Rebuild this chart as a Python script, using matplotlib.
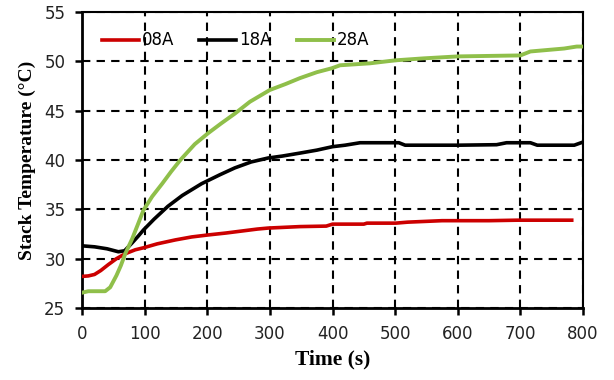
import matplotlib
matplotlib.use("Agg")
import matplotlib.pyplot as plt

# 08A
t_08 = [0, 10, 20, 30, 42, 55, 69, 85, 98, 120, 149, 175, 201, 230, 255, 280, 297,
        348, 390, 400, 450, 455, 501, 520, 575, 650, 695, 782]
T_08 = [28.2, 28.25, 28.4, 28.8, 29.4, 30.0, 30.5, 30.9, 31.1, 31.5, 31.9, 32.2, 32.4,
        32.6, 32.8, 33.0, 33.1, 33.25, 33.3, 33.5, 33.5, 33.6, 33.6, 33.7, 33.85, 33.85,
        33.9, 33.9]
# 18A
t_18 = [0, 20, 40, 58, 68, 80, 90, 98, 115, 137, 160, 191, 220, 244, 270, 297, 320,
        348, 375, 400, 420, 444, 506, 516, 600, 662, 678, 716, 727, 786, 797]
T_18 = [31.3, 31.2, 31.0, 30.7, 30.8, 31.6, 32.3, 32.9, 34.0, 35.3, 36.4, 37.6, 38.5,
        39.2, 39.8, 40.2, 40.4, 40.7, 41.0, 41.35, 41.5, 41.75, 41.75, 41.5, 41.5, 41.55,
        41.75, 41.75, 41.5, 41.5, 41.75]
# 28A
t_28 = [0, 10, 37, 45, 55, 62, 69, 80, 90, 98, 112, 128, 142, 157, 180, 201, 222, 244,
        268, 300, 325, 348, 375, 399, 412, 460, 500, 545, 600, 700, 716, 752, 770, 790, 800]
T_28 = [26.55, 26.7, 26.7, 27.1, 28.3, 29.3, 30.5, 32.0, 33.6, 34.9, 36.3, 37.6, 38.8,
        40.0, 41.6, 42.7, 43.7, 44.7, 45.9, 47.1, 47.7, 48.3, 48.9, 49.3, 49.6, 49.8,
        50.1, 50.3, 50.5, 50.6, 51.0, 51.2, 51.3, 51.5, 51.5]

x_ticks = [0, 100, 200, 300, 400, 500, 600, 700, 800]
y_ticks = [25, 30, 35, 40, 45, 50, 55]

fig = plt.figure(figsize=(6.14, 3.80), dpi=100)
ax = fig.add_axes([0.1336, 0.1895, 0.9495 - 0.1336, 0.9684 - 0.1895])

ax.plot(t_08, T_08, color="#cc0000", lw=2.6, label="08A", zorder=3)
ax.plot(t_18, T_18, color="#000000", lw=2.6, label="18A", zorder=3)
ax.plot(t_28, T_28, color="#8fbf4a", lw=2.8, label="28A", zorder=3)

ax.set_xlim(0, 800)
ax.set_ylim(25, 55)
ax.set_xticks(x_ticks)
ax.set_yticks(y_ticks)
ax.grid(True, color="black", linestyle=(0, (4, 3)), linewidth=1.5)
ax.set_axisbelow(True)

for side in ["left", "bottom"]:
    ax.spines[side].set_linewidth(2)
for side in ["top", "right"]:
    ax.spines[side].set_linewidth(1.5)

ax.tick_params(direction="out", length=5, width=1.8, labelsize=12, pad=7)
for lbl in ax.get_xticklabels() + ax.get_yticklabels():
    lbl.set_fontfamily("DejaVu Sans")
    lbl.set_color("#222222")

ax.set_xlabel("Time (s)", family="Liberation Serif", fontweight="bold", fontsize=15.5, labelpad=5)
ax.set_ylabel("Stack Temperature (°C)", family="Liberation Serif", fontweight="bold", fontsize=14, labelpad=6)

leg = ax.legend(loc="upper left", bbox_to_anchor=(0.01, 0.985), ncol=3, frameon=False,
                handlelength=2.2, handletextpad=0.2, columnspacing=1.5,
                prop={"family": "DejaVu Sans", "size": 12})

fig.savefig("out.png", dpi=100)
